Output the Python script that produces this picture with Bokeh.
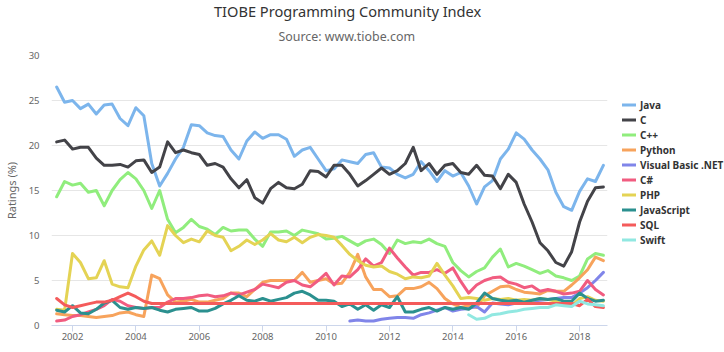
from bokeh.plotting import figure
from bokeh.models import Range1d, FixedTicker, Legend, LegendItem, Title
from bokeh.embed import file_html
from bokeh.resources import INLINE

# quarterly sample dates (decimal years)
years = [2001.5, 2001.75, 2002.0, 2002.25, 2002.5, 2002.75, 2003.0, 2003.25, 2003.5, 2003.75,
         2004.0, 2004.25, 2004.5, 2004.75, 2005.0, 2005.25, 2005.5, 2005.75,
         2006.0, 2006.25, 2006.5, 2006.75, 2007.0, 2007.25, 2007.5, 2007.75,
         2008.0, 2008.25, 2008.5, 2008.75, 2009.0, 2009.25, 2009.5, 2009.75,
         2010.0, 2010.25, 2010.5, 2010.75, 2011.0, 2011.25, 2011.5, 2011.75,
         2012.0, 2012.25, 2012.5, 2012.75, 2013.0, 2013.25, 2013.5, 2013.75,
         2014.0, 2014.25, 2014.5, 2014.75, 2015.0, 2015.25, 2015.5, 2015.75,
         2016.0, 2016.25, 2016.5, 2016.75, 2017.0, 2017.25, 2017.5, 2017.75,
         2018.0, 2018.25, 2018.5, 2018.75]

java = [26.5, 24.8, 25.0, 24.1, 24.6, 23.5, 24.5, 24.6, 23.0, 22.2, 24.2, 23.3, 18.0, 15.5, 16.9, 18.5, 19.8, 22.3,
        22.2, 21.4, 21.1, 21.0, 19.5, 18.5, 20.5, 21.5, 20.8, 21.2, 21.2, 20.7, 18.8, 19.5, 19.8, 18.5, 17.2, 17.4,
        18.4, 18.2, 18.0, 19.0, 19.2, 17.6, 17.5, 16.8, 16.4, 16.8, 18.2, 17.2, 16.0, 17.2, 16.6, 17.0, 15.5, 13.5,
        15.4, 16.1, 18.5, 19.6, 21.4, 20.7, 19.5, 18.5, 17.3, 14.8, 13.2, 12.8, 14.9, 16.3, 16.0, 17.8]

c_lang = [20.4, 20.6, 19.6, 19.8, 19.8, 18.6, 17.8, 17.8, 17.9, 17.6, 18.3, 18.4, 17.0, 17.6, 20.4, 19.2, 19.5, 19.2,
          19.0, 17.8, 18.0, 17.6, 16.3, 15.3, 16.2, 14.2, 13.6, 15.2, 15.9, 15.3, 15.2, 15.7, 17.2, 17.1, 16.5, 17.8,
          17.8, 16.8, 15.5, 16.1, 16.8, 17.5, 16.8, 17.2, 18.0, 19.8, 17.2, 18.0, 16.8, 17.8, 18.0, 17.0, 16.8, 17.8,
          16.7, 16.6, 15.2, 16.8, 15.9, 13.5, 11.5, 9.2, 8.3, 7.0, 6.6, 8.2, 11.5, 13.8, 15.3, 15.4]

cpp = [14.3, 16.0, 15.6, 15.8, 14.8, 15.0, 13.3, 15.0, 16.2, 17.0, 16.3, 15.0, 13.0, 15.0, 11.8, 10.3, 10.9, 11.8,
       11.0, 10.7, 10.1, 10.9, 10.5, 10.6, 10.6, 9.6, 8.8, 10.4, 10.4, 10.5, 10.0, 10.6, 10.4, 10.2, 9.6, 9.7,
       9.9, 9.4, 8.9, 9.4, 9.6, 9.0, 8.0, 9.5, 9.1, 9.3, 9.2, 9.6, 9.1, 8.8, 7.0, 6.1, 5.4, 6.0,
       6.4, 7.6, 8.5, 6.5, 6.9, 6.6, 6.2, 5.8, 6.1, 5.5, 5.3, 5.0, 5.5, 7.4, 8.0, 7.8]

python = [1.3, 1.2, 1.1, 1.1, 1.0, 0.9, 1.0, 1.1, 1.4, 1.5, 1.2, 1.0, 5.6, 5.2, 3.4, 2.6, 2.7, 2.9,
          2.6, 2.6, 2.8, 3.0, 3.6, 3.6, 3.2, 4.0, 4.8, 5.0, 5.0, 5.0, 5.0, 5.9, 4.8, 5.0, 5.2, 4.6,
          4.7, 5.9, 7.9, 5.4, 4.0, 4.0, 3.2, 3.3, 4.1, 4.1, 4.3, 4.8, 4.1, 3.0, 2.4, 2.0, 2.2, 2.0,
          3.3, 3.8, 4.3, 4.4, 4.0, 3.7, 3.6, 3.5, 3.9, 3.8, 3.8, 4.5, 5.3, 6.2, 7.6, 7.2]

# Visual Basic .NET starts in late 2010 (last 33 quarters)
vbnet = [0.5, 0.6, 0.5, 0.5, 0.7, 0.8, 0.9, 0.9, 0.8, 1.2, 1.4, 1.7, 2.0, 1.6, 1.8, 1.9,
         2.1, 1.5, 2.5, 2.4, 2.3, 2.5, 2.6, 2.7, 2.8, 2.9, 3.0, 3.1, 3.1, 3.6, 4.2, 5.0, 5.9]

csharp = [0.5, 0.6, 1.0, 1.2, 1.5, 1.8, 2.2, 2.9, 2.7, 2.2, 2.0, 1.9, 2.0, 2.0, 2.6, 3.0, 3.0, 3.1,
          3.3, 3.4, 3.2, 3.3, 3.6, 3.4, 3.7, 4.0, 4.6, 4.4, 4.2, 4.8, 5.0, 4.5, 4.3, 5.0, 5.8, 4.5,
          5.5, 5.4, 6.2, 7.4, 6.6, 7.0, 8.6, 7.5, 6.5, 5.6, 5.9, 5.9, 6.2, 5.8, 6.4, 4.9, 3.6, 4.5,
          5.0, 5.3, 5.4, 4.8, 4.6, 4.2, 4.4, 3.8, 4.0, 3.8, 3.5, 3.6, 3.8, 5.0, 4.0, 3.4]

php = [1.8, 1.7, 8.0, 7.0, 5.2, 5.3, 7.2, 4.6, 4.3, 4.2, 6.6, 8.4, 9.4, 7.8, 11.1, 10.0, 9.2, 9.6,
       9.3, 10.5, 10.0, 9.8, 8.3, 8.8, 9.5, 9.0, 9.5, 10.2, 9.5, 9.3, 9.8, 9.2, 9.8, 10.1, 10.0, 9.8,
       8.9, 7.9, 7.2, 6.7, 6.5, 6.6, 6.0, 5.7, 5.2, 5.4, 5.3, 5.5, 6.9, 5.6, 4.4, 3.0, 3.1, 3.0,
       2.8, 3.0, 2.9, 3.0, 2.8, 2.9, 2.8, 3.0, 2.9, 2.7, 2.3, 2.2, 3.0, 3.2, 2.8, 2.7]

javascript = [1.7, 1.5, 2.2, 1.4, 1.3, 1.8, 2.5, 2.8, 2.0, 1.8, 2.0, 1.9, 2.0, 1.7, 1.5, 1.8, 1.9, 2.0,
              1.6, 1.6, 1.9, 2.4, 2.8, 3.3, 2.8, 2.7, 3.0, 2.7, 2.9, 3.1, 3.6, 3.8, 3.4, 2.8, 2.8, 2.7,
              2.1, 2.4, 1.8, 2.3, 1.7, 2.3, 2.0, 3.2, 1.5, 1.5, 1.8, 2.0, 1.6, 2.0, 1.8, 2.0, 1.8, 2.5,
              3.6, 3.0, 2.8, 2.7, 2.8, 2.6, 2.8, 3.0, 2.9, 3.0, 2.7, 2.7, 3.6, 3.0, 2.7, 2.8]

sql = [3.0, 2.3, 2.0, 2.2, 2.4, 2.6, 2.6, 2.8, 3.2, 3.6, 3.2, 2.7,
       2.45, 2.45, 2.45, 2.45, 2.45, 2.45, 2.45, 2.45, 2.45, 2.45, 2.45, 2.45, 2.45, 2.45,
       2.45, 2.45, 2.45, 2.45, 2.45, 2.45, 2.45, 2.45, 2.45, 2.45, 2.45, 2.45, 2.45, 2.45,
       2.45, 2.45, 2.45, 2.45, 2.45, 2.45, 2.45, 2.45, 2.45, 2.45, 2.45, 2.45, 2.45, 2.45,
       2.45, 2.45, 2.45, 2.45, 2.45, 2.45, 2.45, 2.45, 2.45, 2.45, 2.45, 2.45,
       2.2, 2.9, 2.1, 2.0]

# Swift starts mid-2014 (last 18 quarters)
swift = [1.2, 0.7, 0.8, 1.2, 1.3, 1.5, 1.6, 1.8, 1.9, 2.0, 2.0, 2.3, 2.2, 2.1, 2.7, 2.4, 2.3, 2.2]

series_names = ["Java", "C", "C++", "Python", "Visual Basic .NET", "C#", "PHP", "JavaScript", "SQL", "Swift"]
series_values = [java, c_lang, cpp, python, vbnet, csharp, php, javascript, sql, swift]
series_colors = ["#7cb5ec", "#434348", "#90ed7d", "#f7a35c", "#8085e9", "#f15c80", "#e4d354", "#2b908f", "#f45b5b", "#91e8e1"]

x_ticks = [2002, 2004, 2006, 2008, 2010, 2012, 2014, 2016, 2018]
x_tick_labels = ["2002", "2004", "2006", "2008", "2010", "2012", "2014", "2016", "2018"]
y_ticks = [0, 5, 10, 15, 20, 25, 30]

FONT = "Noto Sans"

p = figure(frame_width=556, frame_height=270, output_backend="svg", toolbar_location=None, title=None,
           x_range=Range1d(2001.337, 2018.88), y_range=Range1d(0, 30),
           min_border_left=46, min_border_right=122, min_border_top=55, min_border_bottom=27)
p.outline_line_color = None
p.background_fill_color = "white"
p.border_fill_color = "white"

# axes
p.xaxis.ticker = FixedTicker(ticks=x_ticks)
p.xaxis.major_label_overrides = {t: l for t, l in zip(x_ticks, x_tick_labels)}
p.xaxis.axis_line_color = "#ccd6eb"
p.xaxis.major_tick_line_color = "#ccd6eb"
p.xaxis.major_tick_out = 6
p.xaxis.major_tick_in = 0
p.xaxis.minor_tick_line_color = None
p.xaxis.major_label_standoff = 1
p.xaxis.major_label_text_font = FONT
p.xaxis.major_label_text_font_size = "9.5px"
p.xaxis.major_label_text_color = "#666666"

p.yaxis.ticker = FixedTicker(ticks=y_ticks)
p.yaxis.axis_line_color = None
p.yaxis.major_tick_line_color = None
p.yaxis.minor_tick_line_color = None
p.yaxis.major_tick_out = 0
p.yaxis.major_tick_in = 0
p.yaxis.major_label_standoff = 12
p.yaxis.major_label_text_font = FONT
p.yaxis.major_label_text_font_size = "9.5px"
p.yaxis.major_label_text_color = "#666666"
p.yaxis.axis_label = "Ratings (%)"
p.yaxis.axis_label_text_font = FONT
p.yaxis.axis_label_text_font_size = "11px"
p.yaxis.axis_label_text_font_style = "normal"
p.yaxis.axis_label_text_color = "#666666"
p.yaxis.axis_label_standoff = 7

p.xgrid.grid_line_color = None
p.ygrid.grid_line_color = "#e6e6e6"
p.ygrid.ticker = FixedTicker(ticks=y_ticks)

items = []
for name, vals, col in zip(series_names, series_values, series_colors):
    xs = years[len(years) - len(vals):]
    r = p.line(xs, vals, line_color=col, line_width=3, line_join="round", line_cap="round")
    items.append(LegendItem(label=name, renderers=[r]))

legend = Legend(items=items, location=(15, 78), orientation="vertical",
                glyph_width=14, glyph_height=15, label_height=15, spacing=0,
                padding=0, margin=0, label_standoff=4,
                border_line_color=None, background_fill_alpha=0,
                label_text_font=FONT, label_text_font_size="10px",
                label_text_font_style="bold", label_text_color="#333333")
p.add_layout(legend, "right")

# header: spacer (next to frame), subtitle, title (outermost)
spacer = Title(text=" ", align="left", standoff=0.5, text_font=FONT, text_font_size="1px")
subtitle = Title(text="Source: www.tiobe.com", align="left", offset=227, standoff=10.3,
                 vertical_align="top",
                 text_font=FONT, text_font_size="12.4px", text_font_style="normal", text_color="#666666")
title = Title(text="TIOBE Programming Community Index", align="left", offset=162.5, standoff=0,
              vertical_align="top",
              text_font=FONT, text_font_size="14.6px", text_font_style="normal", text_color="#333333")
p.add_layout(spacer, "above")
p.add_layout(subtitle, "above")
p.add_layout(title, "above")

open("out.html", "w").write(file_html(p, INLINE))
